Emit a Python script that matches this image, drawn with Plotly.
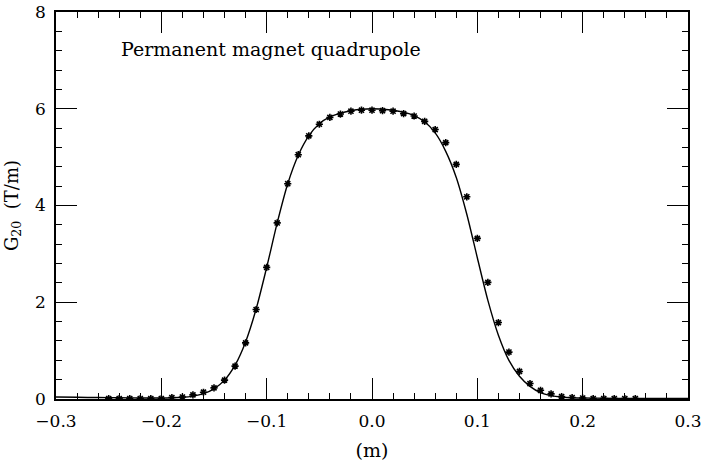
import plotly.graph_objects as go

# Measured data points (asterisks)
x_data = [-0.25, -0.24, -0.23, -0.22, -0.21, -0.20, -0.19, -0.18, -0.17, -0.16,
          -0.15, -0.14, -0.13, -0.12, -0.11, -0.10, -0.09, -0.08, -0.07, -0.06,
          -0.05, -0.04, -0.03, -0.02, -0.01, 0.00, 0.01, 0.02, 0.03, 0.04,
          0.05, 0.06, 0.07, 0.08, 0.09, 0.10, 0.11, 0.12, 0.13, 0.14,
          0.15, 0.16, 0.17, 0.18, 0.19, 0.20, 0.21, 0.22, 0.23, 0.24, 0.25]
g_data = [0.01, 0.01, 0.01, 0.01, 0.01, 0.01, 0.03, 0.04, 0.085, 0.14,
          0.23, 0.39, 0.68, 1.16, 1.85, 2.72, 3.64, 4.45, 5.05, 5.44,
          5.68, 5.82, 5.89, 5.95, 5.97, 5.97, 5.96, 5.95, 5.90, 5.85,
          5.74, 5.57, 5.30, 4.85, 4.18, 3.32, 2.41, 1.58, 0.97, 0.57,
          0.32, 0.18, 0.105, 0.05, 0.03, 0.02, 0.01, 0.01, 0.01, 0.01, 0.01]

# Calculated curve (solid line)
x_curve = [-0.30, -0.28, -0.26, -0.24, -0.22, -0.20, -0.19, -0.18, -0.17, -0.16,
           -0.15, -0.14, -0.13, -0.12, -0.11, -0.10, -0.09, -0.08, -0.07, -0.06,
           -0.05, -0.04, -0.03, -0.02, -0.01, 0.00, 0.01, 0.02, 0.03, 0.04,
           0.05, 0.06, 0.07, 0.08, 0.09, 0.10, 0.11, 0.12, 0.13, 0.14,
           0.15, 0.16, 0.17, 0.18, 0.19, 0.20, 0.22, 0.24, 0.26, 0.28, 0.30]
g_curve = [0.04, 0.035, 0.03, 0.025, 0.02, 0.02, 0.025, 0.035, 0.06, 0.11,
           0.21, 0.39, 0.70, 1.18, 1.86, 2.72, 3.64, 4.45, 5.04, 5.44,
           5.69, 5.83, 5.91, 5.96, 5.99, 6.00, 5.99, 5.97, 5.93, 5.86,
           5.73, 5.50, 5.12, 4.58, 3.82, 2.92, 2.04, 1.32, 0.80, 0.47,
           0.26, 0.13, 0.07, 0.04, 0.025, 0.02, 0.015, 0.01, 0.01, 0.01, 0.01]

x_ticks = [-0.3, -0.2, -0.1, 0.0, 0.1, 0.2, 0.3]
x_ticklabels = ["\u22120.3", "\u22120.2", "\u22120.1", "0.0", "0.1", "0.2", "0.3"]
y_ticks = [0, 2, 4, 6, 8]
y_ticklabels = ["0", "2", "4", "6", "8"]

title_text = "Permanent magnet quadrupole"
FONT = "DejaVu Serif"

fig = go.Figure()
fig.add_trace(go.Scatter(x=x_curve, y=g_curve, mode="lines",
                         line=dict(color="black", width=1.4, shape="spline", smoothing=0.8),
                         showlegend=False, hoverinfo="skip"))
fig.add_trace(go.Scatter(x=x_data, y=g_data, mode="markers",
                         marker=dict(symbol="asterisk", size=6, color="black",
                                     line=dict(color="black", width=1.6)),
                         showlegend=False))

axis_common = dict(showgrid=False, zeroline=False, showline=True, linecolor="black",
                   linewidth=1.6, ticks="inside", tickcolor="black", tickwidth=1.3,
                   ticklen=21, mirror="allticks", automargin=False,
                   tickfont=dict(family=FONT, size=17, color="black"))

fig.update_xaxes(range=[-0.3, 0.3], tickmode="array", tickvals=x_ticks,
                 ticktext=x_ticklabels, ticklabelstandoff=6,
                 minor=dict(dtick=0.02, ticks="inside", ticklen=6, tickcolor="black", tickwidth=1.3),
                 title=dict(text="(m)", font=dict(family=FONT, size=19, color="black"), standoff=13),
                 **axis_common)
fig.update_yaxes(range=[0, 8], tickmode="array", tickvals=y_ticks,
                 ticktext=y_ticklabels, ticklabelstandoff=5,
                 minor=dict(dtick=0.4, ticks="inside", ticklen=6, tickcolor="black", tickwidth=1.3),
                 title=dict(text="G<sub>20</sub>  (T/m)", font=dict(family=FONT, size=18, color="black"), standoff=12),
                 **axis_common)

fig.add_annotation(x=0.1, y=0.905, xref="paper", yref="paper", xanchor="left", yanchor="middle",
                   text=title_text, showarrow=False,
                   font=dict(family=FONT, size=19, color="black"))

fig.update_layout(width=704, height=462, paper_bgcolor="white", plot_bgcolor="white",
                  margin=dict(l=56, r=16, t=12, b=63))

fig.write_html("out.html")
